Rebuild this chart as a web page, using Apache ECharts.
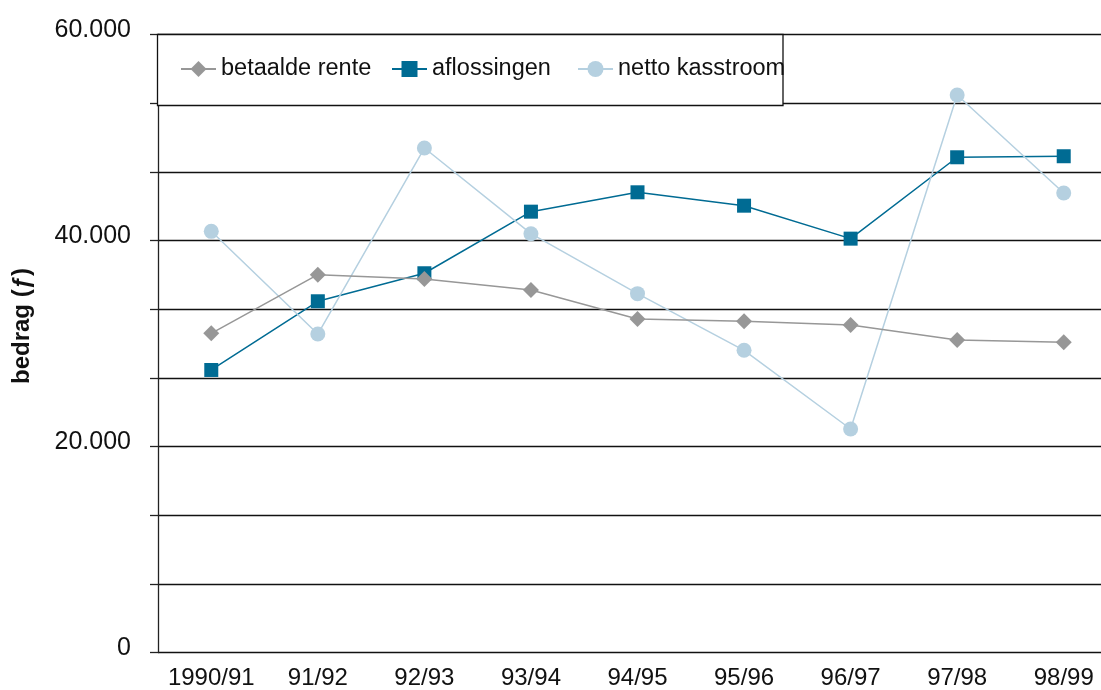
<!DOCTYPE html>
<html><head><meta charset="utf-8">
<script src="https://cdn.jsdelivr.net/npm/echarts@6/dist/echarts.min.js"></script>
<style>html,body{margin:0;padding:0;background:#fff}#c{width:1101px;height:690px}</style>
</head><body><div id="c"></div>
<script>
const categories = ['1990/91','91/92','92/93','93/94','94/95','95/96','96/97','97/98','98/99'];
const betaaldeRente = [30990, 36680, 36260, 35190, 32380, 32160, 31800, 30340, 30120];
const aflossingen = [27430, 34100, 36820, 42800, 44680, 43380, 40180, 48080, 48180];
const nettoKasstroom = [40890, 30920, 48980, 40660, 34840, 29340, 21700, 54130, 44610];
const yTickLabels = [0, 20000, 40000, 60000];
const seriesNames = ['betaalde rente', 'aflossingen', 'netto kasstroom'];
const yAxisTitle = 'bedrag (ƒ)';

const FONT = "'Liberation Sans', Arial, sans-serif";
const C_GREY = '#979797', C_BLUE = '#006b93', C_LIGHT = '#b5d0e0';

function fmt(v) {
  return String(v).replace(/\B(?=(\d{3})+(?!\d))/g, '.');
}

const chart = echarts.init(document.getElementById('c'), null, {renderer: 'canvas'});
const legendBase = {
  top: 55, padding: 0, itemWidth: 35, itemHeight: 20,
  textStyle: {fontFamily: FONT, fontSize: 23.5, color: '#111', lineHeight: 28},
  selectedMode: false, z: 5
};
chart.setOption({
  animation: false,
  backgroundColor: '#fff',
  grid: {left: 158, width: 959, top: 34.5, bottom: 37.5, containLabel: false, outerBoundsMode: 'none'},
  graphic: [
    {type: 'rect', z: 1, shape: {x: 157.5, y: 34.5, width: 625.5, height: 71}, style: {fill: '#fff', stroke: '#111', lineWidth: 1.3}},
    {type: 'text', z: 5, x: 22, y: 326, rotation: Math.PI / 2,
     style: {text: yAxisTitle, font: "bold 24px 'Liberation Sans', Arial, sans-serif", fill: '#111', align: 'center', verticalAlign: 'middle'}}
  ],
  legend: [
    Object.assign({}, legendBase, {left: 180, data: [seriesNames[0]]}),
    Object.assign({}, legendBase, {left: 391, data: [seriesNames[1]]}),
    Object.assign({}, legendBase, {left: 577, data: [seriesNames[2]]})
  ],
  xAxis: {
    type: 'category', data: categories, boundaryGap: true,
    axisLine: {show: false}, axisTick: {show: false},
    axisLabel: {fontFamily: FONT, fontSize: 24, color: '#111', margin: 14, interval: 0}
  },
  yAxis: {
    type: 'value', min: 0, max: 60000, interval: 6666.67,
    axisLine: {show: true, lineStyle: {color: '#222', width: 1.3}},
    axisTick: {show: true, inside: false, length: 8, lineStyle: {color: '#222', width: 1.3}},
    splitLine: {show: true, lineStyle: {color: '#111', width: 1.3}},
    axisLabel: {
      fontFamily: FONT, fontSize: 25, color: '#111', margin: 27,
      verticalAlign: 'bottom', lineHeight: 9,
      formatter: function (v) {
        for (const t of yTickLabels) { if (Math.abs(v - t) < 1) return fmt(t); }
        return '';
      }
    }
  },
  series: [
    {name: seriesNames[0], type: 'line', data: betaaldeRente, symbol: 'diamond', symbolSize: 16, z: 4,
     itemStyle: {color: C_GREY}, lineStyle: {color: C_GREY, width: 1.5}},
    {name: seriesNames[1], type: 'line', data: aflossingen, symbol: 'rect', symbolSize: 14, z: 3,
     itemStyle: {color: C_BLUE}, lineStyle: {color: C_BLUE, width: 1.5}},
    {name: seriesNames[2], type: 'line', data: nettoKasstroom, symbol: 'circle', symbolSize: 15, z: 3,
     itemStyle: {color: C_LIGHT}, lineStyle: {color: C_LIGHT, width: 1.5}}
  ]
});
</script></body></html>
